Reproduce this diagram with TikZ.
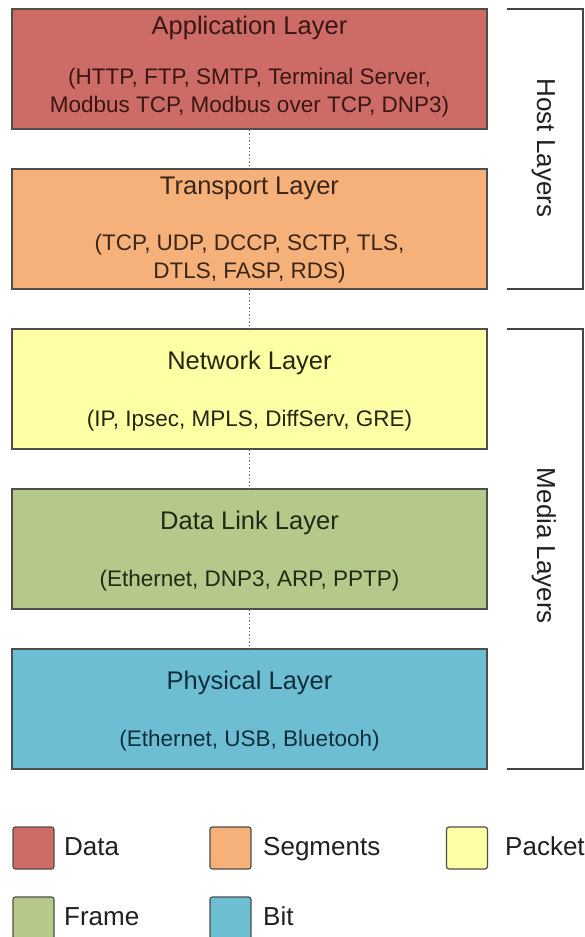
\documentclass[tikz,border=0pt]{standalone}
\usepackage{fontspec}
\setmainfont{Liberation Sans}
\definecolor{appred}{HTML}{CD6B67}
\definecolor{trorange}{HTML}{F6B17A}
\definecolor{netyellow}{HTML}{FFFFA6}
\definecolor{dlgreen}{HTML}{B5C98A}
\definecolor{phyblue}{HTML}{6DBDD3}
\definecolor{apptext}{HTML}{3A1614}
\definecolor{trtext}{HTML}{3A2616}
\definecolor{nettext}{HTML}{26260E}
\definecolor{dltext}{HTML}{222A14}
\definecolor{phytext}{HTML}{0E2E3C}
\definecolor{boxline}{HTML}{4E4E4A}
\definecolor{linkgray}{HTML}{707070}
\definecolor{bracket}{HTML}{444444}
\definecolor{labeltext}{HTML}{202020}
\begin{document}
\begin{tikzpicture}[x=1pt,y=-1pt,
  layer/.style={draw=boxline, line width=1.4pt, minimum width=475pt, minimum height=120pt, inner sep=0pt},
  ttl/.style={anchor=base, font=\fontsize{25.5}{30}\selectfont, inner sep=0pt},
  sub/.style={anchor=base, font=\fontsize{22.5}{27}\selectfont, inner sep=0pt},
  link/.style={draw=linkgray, line width=1.5pt, dotted},
  brace/.style={draw=bracket, line width=1.5pt},
  side/.style={rotate=-90, anchor=base, font=\fontsize{26}{30}\selectfont, inner sep=0pt, text=labeltext},
  key/.style={draw=boxline, line width=1.2pt, rounded corners=2.5pt, minimum width=41pt, minimum height=42pt, inner sep=0pt},
  keytext/.style={anchor=base west, font=\fontsize{26}{30}\selectfont, inner sep=0pt, text=labeltext}]

\useasboundingbox[fill=white] (0,0) rectangle (584,937);

% protocol layers
\node[layer, fill=appred] (app) at (249.5,69) {};
\node[ttl, text=apptext] (appT) at (249.5,34) {Application Layer};
\node[sub, text=apptext] (appS1) at (249.5,84) {(HTTP, FTP, SMTP, Terminal Server,};
\node[sub, text=apptext] (appS2) at (249.5,112) {Modbus TCP, Modbus over TCP, DNP3)};

\node[layer, fill=trorange] (tr) at (249.5,229) {};
\node[ttl, text=trtext] (trT) at (249.5,194) {Transport Layer};
\node[sub, text=trtext] (trS1) at (249.5,250) {(TCP, UDP, DCCP, SCTP, TLS,};
\node[sub, text=trtext] (trS2) at (249.5,278) {DTLS, FASP, RDS)};

\node[layer, fill=netyellow] (net) at (249.5,389) {};
\node[ttl, text=nettext] (netT) at (249.5,369) {Network Layer};
\node[sub, text=nettext] (netS) at (249.5,426) {(IP, Ipsec, MPLS, DiffServ, GRE)};

\node[layer, fill=dlgreen] (dl) at (249.5,549) {};
\node[ttl, text=dltext] (dlT) at (249.5,529) {Data Link Layer};
\node[sub, text=dltext] (dlS) at (249.5,586) {(Ethernet, DNP3, ARP, PPTP)};

\node[layer, fill=phyblue] (phy) at (249.5,709) {};
\node[ttl, text=phytext] (phyT) at (249.5,689) {Physical Layer};
\node[sub, text=phytext] (phyS) at (249.5,746) {(Ethernet, USB, Bluetooh)};

% dotted links between layers
\draw[link] (app) -- (tr);
\draw[link] (tr) -- (net);
\draw[link] (net) -- (dl);
\draw[link] (dl) -- (phy);

% host / media brackets
\coordinate (h1) at (507,9);
\coordinate (h2) at (583,9);
\coordinate (h3) at (583,289);
\coordinate (h4) at (507,289);
\draw[brace] (h1) -- (h2) -- (h3) -- (h4);
\node[side] (hostL) at (537,148) {Host Layers};

\coordinate (m1) at (507,329);
\coordinate (m2) at (583,329);
\coordinate (m3) at (583,769);
\coordinate (m4) at (507,769);
\draw[brace] (m1) -- (m2) -- (m3) -- (m4);
\node[side] (mediaL) at (537,546) {Media Layers};

% legend
\node[key, fill=appred] (kData) at (33.5,848) {};
\node[keytext] (tData) at (64,855) {Data};
\node[key, fill=trorange] (kSeg) at (230.5,848) {};
\node[keytext] (tSeg) at (263,855) {Segments};
\node[key, fill=netyellow] (kPkt) at (467,848) {};
\node[keytext] (tPkt) at (505,855) {Packet};
\node[key, fill=dlgreen] (kFrm) at (33.5,918) {};
\node[keytext] (tFrm) at (64,925) {Frame};
\node[key, fill=phyblue] (kBit) at (230.5,918) {};
\node[keytext] (tBit) at (263,925) {Bit};
\end{tikzpicture}
\end{document}
